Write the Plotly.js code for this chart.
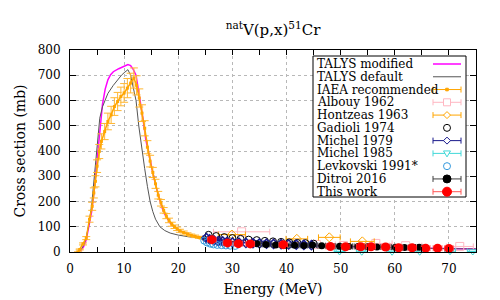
<!DOCTYPE html>
<html>
<head>
<meta charset="utf-8">
<script src="https://cdn.plot.ly/plotly-3.0.1.min.js"></script>
<style>
html,body{margin:0;padding:0;background:#fff;}
#chart{width:500px;height:300px;}
#chart .xtick text, #chart .ytick text, #chart .g-xtitle text, #chart .g-ytitle text, #chart .gtitle {font-family:'DejaVu Serif' !important; font-weight:normal !important;}
</style>
</head>
<body>
<div id="chart"></div>
<script>
// ---------- data ----------
const talysModE = [1.2,1.5,2,2.5,3,3.5,4,4.5,5,5.5,6,6.5,7,7.5,8,9,10,10.7,11.2,11.7,12.2,12.6,13,13.5,14,14.5,15,15.5,16,16.5,17,17.5,18,18.5,19,19.5,20,21,22,23,24,25,27,30,35,40,45,50,55,60,65,70,75];
const talysModXS = [0,1,6,20,48,100,160,250,370,480,585,645,682,702,714,726,735,742,738,722,700,650,590,525,445,390,340,295,250,208,175,150,130,115,105,97,88,77,69,63,58,54,48,41,34,29,25,22,19.5,17,15,13.5,12];

const talysDefE = [1.2,1.5,2,2.5,3,3.5,4,4.5,5,5.5,6,6.5,7,8,9,9.5,10,10.7,11.2,11.7,12.2,12.7,13.3,13.8,14.3,14.8,15.3,15.8,16.6,17.5,18.5,20,22,24,25,27,30,35,40,45,50,55,60,65,70,75];
const talysDefXS = [0,1,8,26,58,112,185,310,440,530,575,605,628,660,688,700,710,722,700,650,600,500,400,330,260,200,160,130,100,85,75,67,60,55,53,47,41,34,29,25,22,19,17,15,13,12];

const iaeaE = [1.5,1.8,2.4,3.0,3.6,4.1,4.4,4.7,5.0,5.4,5.8,6.4,7.0,7.6,8.2,8.8,9.4,10.0,10.6,11.2,11.8,12.3,12.8,13.3,13.8,14.3,14.8,15.3,15.8,16.3,16.8,17.3,17.8,18.3,18.8,19.3,19.8,20.3,21.0,21.7,22.4,23.1,23.8,24.5,25.2];
const iaeaXS = [0,10,32,55,130,181,234,280,340,398,438,477,517,543,576,596,616,630,649,669,689,660,610,550,490,415,360,315,270,225,195,165,142,125,110,100,92,84,77,71,66,62,58,55,52];
const iaeaErr = [0,2,4,6,12,16,20,22,25,28,30,32,33,34,35,36,37,37,38,39,40,38,36,33,30,26,23,20,18,15,13,11,10,9,8,7,7,6,6,5,5,5,4,4,4];

const albouyE = [31.7,45.5,50.5,56.5,62.0,72.0];
const albouyXS = [80,30,26,34,25,22];
const albouyEErr = [5.2,3.5,3,3,3,2.5];

const hontzeasE = [29.9,41.9,47.9,54.0];
const hontzeasXS = [69,52,58,42];
const hontzeasEErr = [2.5,2,2,2.2];

const gadioliE = [25.6,27,28.5,30,31.5,33,34.5,36,37.5,39,40.5,42,43.5,45];
const gadioliXS = [68,63,59,55,52,49,47,44,42,40,38,36,35,33];

const michel79E = [25.2,25.8,26.6,27.4,28.2,29,30,31.2,32.5,33.8,35,36.3,37.6,39,40.4,41.8,43.2,44.6];
const michel79XS = [55,50,46,43,42,40,38,37,36,35,34,33,32,31,30,29,28,27];
const michel79EErr = [0.6,0.6,0.6,0.6,0.7,0.7,0.7,0.7,0.8,0.8,0.8,0.8,0.9,0.9,0.9,0.9,1,1];

const michel85E = [49.8,53.9,59.5,64.6,70.2,74.4];
const michel85XS = [2,1,1,1,3,2];
const michel85EErr = [1,1,1,1,1,1];

const levkovskiE = [24.8,25.3,25.9,26.5,27.2,28,28.8,29.6,30.5];
const levkovskiXS = [45,38,33,30,28,27,26,25,24];

const ditroiE = [34.5,36.2,38,39.8,41.5,43.2,44.8,46.5,48.2,49.8,51.5,53.2,55,56.7,58.4,60.1,61.8,63.5,64.5];
const ditroiXS = [33,30,28,27,27,26,28,25,23,23,22,22,21,20,20,19,18,18,19];
const ditroiEErr = [0.7,0.7,0.7,0.7,0.7,0.7,0.7,0.7,0.7,0.7,0.7,0.7,0.7,0.7,0.7,0.7,0.7,0.7,0.7];

const thisWorkE = [26.2,29.1,31.1,33.3,39.4,48.1,50.9,53.7,55.6,58.3,60.7,63.2,65.7,67.9,70.0];
const thisWorkXS = [49,36,33,32,29,22,21,21,21,20,17,17,15,15,14];
const thisWorkEErr = [0.8,0.8,0.8,0.8,0.8,0.8,0.8,0.8,0.8,0.8,0.8,0.8,0.8,0.8,0.8];

const legendNames = ['TALYS modified','TALYS default','IAEA recommended','Albouy 1962','Hontzeas 1963','Gadioli 1974','Michel 1979','Michel 1985','Levkovski 1991*','Ditroi 2016','This work'];

// ---------- styles ----------
const C = {
  mod:'#ff00ff', def:'#555555', iaea:'#ffa500', albouy:'#ffb6c1', hontz:'#ffa500',
  gad:'#000000', m79:'#1a1a8c', m85:'#40d8d8', levk:'#3399dd', ditroi:'#000000', ditroiBar:'#404040',
  tw:'#ff0000', twBar:'#ff5555'
};
const SERIF = 'DejaVu Serif';

function errX(arr,color){return {type:'data',array:arr,visible:true,color:color,thickness:1,width:3};}

const traces = [
  {x:talysModE,y:talysModXS,mode:'lines',line:{color:C.mod,width:1.5},showlegend:false},
  {x:talysDefE,y:talysDefXS,mode:'lines',line:{color:C.def,width:1},showlegend:false},
  {x:iaeaE,y:iaeaXS,mode:'lines+markers',line:{color:C.iaea,width:1.5},marker:{symbol:'square',size:3,color:C.iaea},
   error_y:{type:'data',array:iaeaErr,visible:true,color:'#ffb733',thickness:1,width:4},showlegend:false},
  {x:albouyE,y:albouyXS,mode:'markers',marker:{symbol:'square-open',size:8,color:C.albouy,line:{width:1}},error_x:errX(albouyEErr,C.albouy),showlegend:false},
  {x:hontzeasE,y:hontzeasXS,mode:'markers',marker:{symbol:'diamond-open',size:7,color:C.hontz,line:{width:1}},error_x:errX(hontzeasEErr,C.hontz),showlegend:false},
  {x:gadioliE,y:gadioliXS,mode:'markers',marker:{symbol:'circle-open',size:7,color:C.gad,line:{width:1}},showlegend:false},
  {x:michel79E,y:michel79XS,mode:'markers',marker:{symbol:'diamond-open',size:7,color:C.m79,line:{width:1.5}},error_x:errX(michel79EErr,C.m79),showlegend:false},
  {x:michel85E,y:michel85XS,mode:'markers',marker:{symbol:'triangle-down-open',size:7,color:C.m85,line:{width:1}},error_x:errX(michel85EErr,C.m85),cliponaxis:false,showlegend:false},
  {x:levkovskiE,y:levkovskiXS,mode:'markers',marker:{symbol:'circle-open',size:7,color:C.levk,line:{width:1}},showlegend:false},
  {x:ditroiE,y:ditroiXS,mode:'markers',marker:{symbol:'circle',size:7,color:C.ditroi},error_x:errX(ditroiEErr,C.ditroiBar),showlegend:false},
  {x:thisWorkE,y:thisWorkXS,mode:'markers',marker:{symbol:'circle',size:9,color:C.tw},error_x:errX(thisWorkEErr,C.twBar),showlegend:false}
];

// ---------- custom key (gnuplot style: text left, sample right) ----------
const PL=70, PT=50, PW=406, PH=202;
const px = v => (v-PL)/PW;
const py = v => (PT+PH-v)/PH;
const shapes = [];
const annotations = [];
shapes.push({type:'rect',xref:'paper',yref:'paper',x0:px(313),x1:px(466),y0:py(197),y1:py(56),line:{color:'#000',width:1},fillcolor:'#fff',layer:'above'});
const sx0=433, sx1=461, sxm=447;
function hline(yc,color,w){shapes.push({type:'line',xref:'paper',yref:'paper',x0:px(sx0),x1:px(sx1),y0:py(yc),y1:py(yc),line:{color:color,width:w},layer:'above'});}
function bar(yc,color){hline(yc,color,1);[sx0,sx1].forEach(x=>shapes.push({type:'line',xref:'paper',yref:'paper',x0:px(x),x1:px(x),y0:py(yc-3),y1:py(yc+3),line:{color:color,width:1},layer:'above'}));}
function circ(yc,r,color,fill){shapes.push({type:'circle',xref:'paper',yref:'paper',x0:px(sxm-r),x1:px(sxm+r),y0:py(yc+r),y1:py(yc-r),line:{color:color,width:1},fillcolor:fill,layer:'above'});}
function sq(yc,r,color,fill){shapes.push({type:'rect',xref:'paper',yref:'paper',x0:px(sxm-r),x1:px(sxm+r),y0:py(yc+r),y1:py(yc-r),line:{color:color,width:1},fillcolor:fill,layer:'above'});}
function path(pts,color,fill){const d=pts.map((p,i)=>(i?'L':'M')+px(sxm+p[0])+','+py(p[1])).join(' ')+' Z';shapes.push({type:'path',xref:'paper',yref:'paper',path:d,line:{color:color,width:1},fillcolor:fill,layer:'above'});}
function diam(yc,r,color){path([[0,yc-r],[r,yc],[0,yc+r],[-r,yc]],color,'#fff');}
function tri(yc,r,color){path([[-r,yc-r*0.7],[r,yc-r*0.7],[0,yc+r]],color,'#fff');}

legendNames.forEach((name,i)=>{
  const yc = 64 + i*12.77;
  annotations.push({xref:'paper',yref:'paper',x:px(316),y:py(yc),xanchor:'left',yanchor:'middle',text:name,showarrow:false,borderpad:0,font:{family:SERIF,size:12,color:'#000'}});
  switch(i){
    case 0: hline(yc,C.mod,1.5); break;
    case 1: hline(yc,C.def,1); break;
    case 2: bar(yc,C.iaea); sq(yc,1.3,C.iaea,C.iaea); break;
    case 3: bar(yc,C.albouy); sq(yc,3.5,C.albouy,'#fff'); break;
    case 4: bar(yc,C.hontz); diam(yc,3.5,C.hontz); break;
    case 5: circ(yc,3.5,C.gad,'#fff'); break;
    case 6: bar(yc,C.m79); diam(yc,3.5,C.m79); break;
    case 7: bar(yc,C.m85); tri(yc,3.5,C.m85); break;
    case 8: circ(yc,3.5,C.levk,'#fff'); break;
    case 9: bar(yc,C.ditroiBar); circ(yc,4,C.ditroi,C.ditroi); break;
    case 10: bar(yc,C.twBar); circ(yc,4.5,C.tw,C.tw); break;
  }
});

const layout = {
  width:500, height:300,
  margin:{l:PL, r:500-PL-PW, t:PT, b:300-PT-PH},
  paper_bgcolor:'#fff', plot_bgcolor:'#fff',
  font:{family:SERIF,color:'#000',size:12},
  title:{text:'<sup>nat</sup>V(p,x)<sup>51</sup>Cr',font:{family:SERIF,size:15,color:'#000'},x:0.546,xanchor:'center',y:0.9,yanchor:'middle'},
  xaxis:{
    showline:true, linecolor:'#000', linewidth:1, mirror:'allticks', ticks:'inside', tickcolor:'#000',
    tickfont:{family:SERIF,size:12,color:'#000',weight:'normal'},
    showgrid:true, gridcolor:'#b8b8b8', griddash:'dot', gridwidth:1, zeroline:false,
    range:[0,75], dtick:10, tick0:0, ticklen:5,
    minor:{dtick:5,ticklen:5,ticks:'inside',tickcolor:'#000',showgrid:false},
    ticklabelstandoff:6,
    title:{text:'Energy (MeV)',font:{family:SERIF,size:14,color:'#000',weight:'normal'},standoff:8}
  },
  yaxis:{
    showline:true, linecolor:'#000', linewidth:1, mirror:'allticks', ticks:'inside', tickcolor:'#000',
    tickfont:{family:SERIF,size:12,color:'#000',weight:'normal'},
    showgrid:true, gridcolor:'#b8b8b8', griddash:'dot', gridwidth:1, zeroline:false,
    range:[0,800], dtick:100, tick0:0, ticklen:6,
    ticklabelstandoff:6,
    title:{text:'Cross section (mb)',font:{family:SERIF,size:14,color:'#000',weight:'normal'},standoff:8}
  },
  shapes:shapes, annotations:annotations, showlegend:false
};

Plotly.newPlot('chart', traces, layout, {displayModeBar:false, staticPlot:true});
</script>
</body>
</html>
